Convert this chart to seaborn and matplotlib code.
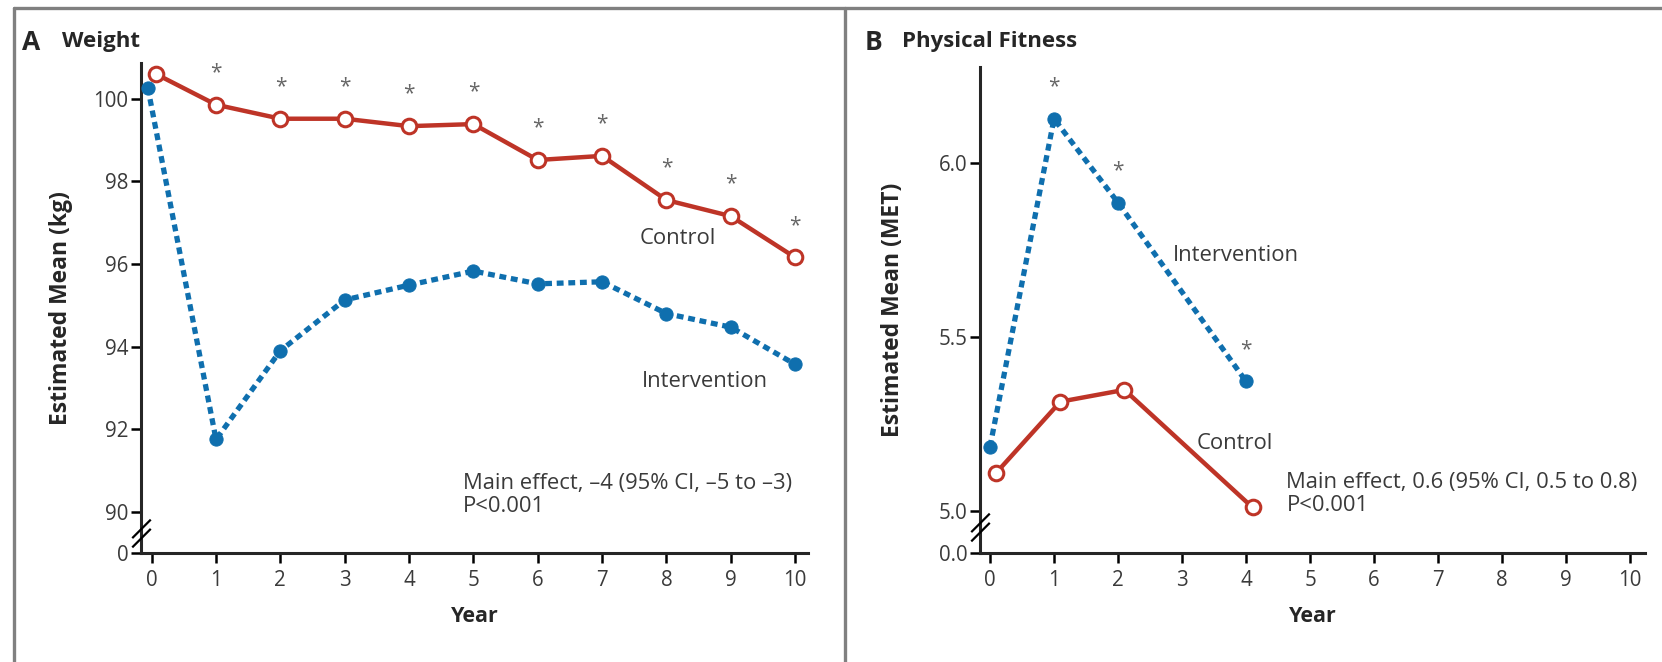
import numpy as np
import matplotlib
matplotlib.use("Agg")
import matplotlib.pyplot as plt
from matplotlib.path import Path
import seaborn as sns

# panel A: weight (kg)
years_a = [0, 1, 2, 3, 4, 5, 6, 7, 8, 9, 10]
control_a = [100.60, 99.86, 99.52, 99.52, 99.34, 99.39, 98.52, 98.62, 97.55, 97.16, 96.16]
interv_a = [100.27, 91.75, 93.90, 95.13, 95.49, 95.83, 95.52, 95.57, 94.80, 94.47, 93.57]
stars_a = [1, 2, 3, 4, 5, 6, 7, 8, 9, 10]
yticks_a = [90, 92, 94, 96, 98, 100]

# panel B: physical fitness (MET)
years_b = [0, 1, 2, 4]
control_b = [5.11, 5.314, 5.348, 5.01]
interv_b = [5.184, 6.127, 5.886, 5.372]
stars_b = [1, 2, 4]
yticks_b = [5.0, 5.5, 6.0]

RED = "#BE3427"
BLUE = "#0F6FAE"
GREY = "#3a3a3a"
FS = 15.8

sns.set_style("ticks")
plt.rcParams['font.family'] = ['Open Sans', 'DejaVu Sans']
plt.rcParams['axes.linewidth'] = 2.2

W, H = 1662, 662
fig = plt.figure(figsize=(W / 100, H / 100), dpi=100)
axA = fig.add_axes([141 / W, 1 - 553 / H, (808 - 141) / W, (553 - 63) / H])
axB = fig.add_axes([980 / W, 1 - 553 / H, (1645 - 980) / W, (553 - 67) / H])

brk = Path([(-1, -1.5), (1, 0.5), (-1, -0.5), (1, 1.5)],
           [Path.MOVETO, Path.LINETO, Path.MOVETO, Path.LINETO])


def draw(ax, years, ctrl, intv, stars, star_on, ticks, ylim, zero_pos, brk_y,
         xleft, xright, ctrl_dx, ylabel, fmt, ypad):
    x = np.array(years, dtype=float)
    xc = x + ctrl_dx
    xi = x.copy()
    if ctrl_dx == 0:
        xc[0] += 0.07
        xi[0] -= 0.06
    sns.lineplot(x=xc, y=ctrl, ax=ax, sort=False, estimator=None, color=RED,
                 lw=3.2, marker='o', markersize=10.5, markerfacecolor='white',
                 markeredgecolor=RED, markeredgewidth=2.2, zorder=3)
    sns.lineplot(x=xi, y=intv, ax=ax, sort=False, estimator=None, color=BLUE,
                 lw=3.8, linestyle=(0, (1.3, 0.9)), marker='o', markersize=9.5,
                 markerfacecolor=BLUE, markeredgecolor=BLUE, zorder=4)
    ref = dict(zip(years, star_on))
    for s in stars:
        ax.annotate("*", (s, ref[s]), xytext=(0, 23), textcoords='offset points',
                    ha='center', va='center', fontsize=15, color='#666666')
    ax.set_xlim(xleft, xright)
    ax.set_ylim(zero_pos, ylim)
    ax.set_xticks(range(0, 11))
    ax.set_yticks([zero_pos] + ticks)
    ax.set_yticklabels([fmt.format(0)] + [fmt.format(t) for t in ticks])
    ax.tick_params(axis='both', labelsize=14.8, colors='black', labelcolor=GREY,
                   length=7, width=1.8)
    ax.tick_params(axis='x', pad=5)
    ax.tick_params(axis='y', pad=2)
    sns.despine(ax=ax)
    ax.set_xlabel("Year", fontsize=15.5, fontweight='bold', labelpad=11)
    ax.set_ylabel(ylabel, fontsize=16.5, fontweight='bold', labelpad=ypad)
    ax.plot([xleft], [brk_y], marker=brk, markersize=20, markeredgewidth=1.6,
            color='black', clip_on=False, transform=ax.transData, zorder=5)


draw(axA, years_a, control_a, interv_a, stars_a, control_a, yticks_a,
     100.87, 89.0, 89.49, -0.166, 10.2, 0, "Estimated Mean (kg)", "{:.0f}", 15)
draw(axB, years_b, control_b, interv_b, stars_b, interv_b, yticks_b,
     6.276, 4.879, 4.954, -0.156, 10.23, 0.1, "Estimated Mean (MET)", "{:.1f}", 24)

axA.text(7.59, 96.63, "Control", fontsize=FS, color=GREY, va='center')
axA.text(7.62, 93.15, "Intervention", fontsize=FS, color=GREY, va='center')
axA.text(4.84, 90.41, "Main effect, \u20134 (95% CI, \u20135 to \u20133)\nP<0.001",
         fontsize=FS, color=GREY, va='center', linespacing=1.15)
axB.text(2.86, 5.733, "Intervention", fontsize=FS, color=GREY, va='center')
axB.text(3.22, 5.195, "Control", fontsize=FS, color=GREY, va='center')
axB.text(4.63, 5.049, "Main effect, 0.6 (95% CI, 0.5 to 0.8)\nP<0.001",
         fontsize=FS, color=GREY, va='center', linespacing=1.15)

# panel titles
fig.text(22 / W, 1 - 42 / H, "A", fontsize=19, fontweight='bold', va='center')
fig.text(62 / W, 1 - 42 / H, "Weight", fontsize=16, fontweight='bold', va='center')
fig.text(865 / W, 1 - 42 / H, "B", fontsize=19, fontweight='bold', va='center')
fig.text(902 / W, 1 - 42 / H, "Physical Fitness", fontsize=16, fontweight='bold', va='center')

# panel frames
frame = dict(color='#808080', lw=2.4, transform=fig.transFigure)
fig.add_artist(plt.Line2D([14 / W, 1], [1 - 8 / H, 1 - 8 / H], **frame))
fig.add_artist(plt.Line2D([14 / W, 14 / W], [0, 1 - 8 / H], **frame))
fig.add_artist(plt.Line2D([845 / W, 845 / W], [0, 1 - 8 / H], **frame))

fig.savefig("out.png", dpi=100)
